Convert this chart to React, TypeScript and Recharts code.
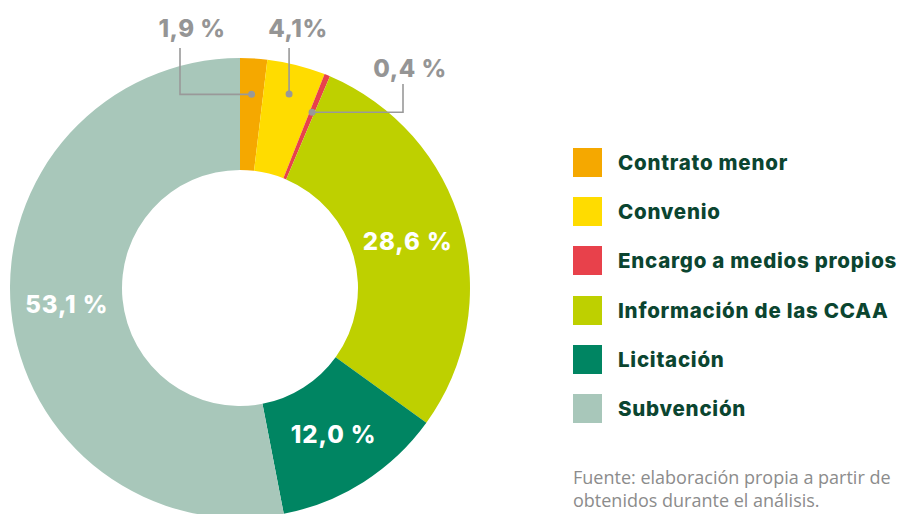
import { PieChart, Pie, Cell, Legend } from "recharts";

const categories = [
  "Contrato menor",
  "Convenio",
  "Encargo a medios propios",
  "Información de las CCAA",
  "Licitación",
  "Subvención",
];
const shares = [1.9, 4.1, 0.4, 28.6, 12.0, 53.1];
const shareLabels = ["1,9 %", "4,1%", "0,4 %", "28,6 %", "12,0 %", "53,1 %"];
const colors = ["#F5A800", "#FFDC00", "#E8414B", "#BED000", "#008562", "#A8C7BA"];

// placement of the outside labels (leader line elbows / text anchors)
const outside: Record<number, { dotR: number; elbowX?: number; endY: number; textX: number; textY: number }> = {
  0: { dotR: 194, elbowX: 180, endY: 48, textX: 192, textY: 37 },
  1: { dotR: 200, endY: 48, textX: 298, textY: 37 },
  2: { dotR: 190, elbowX: 403, endY: 84, textX: 410, textY: 77 },
};

const data = categories.map((name, i) => ({ name, value: shares[i] }));
const RAD = Math.PI / 180;
const FONT = "Inter, 'DejaVu Sans', sans-serif";

function renderLabel(props: any) {
  const { cx, cy, midAngle, innerRadius, outerRadius, index } = props;
  const lay = outside[index];
  if (!lay) {
    const r = (innerRadius + outerRadius) / 2;
    const x = cx + r * Math.cos(-midAngle * RAD);
    const y = cy + r * Math.sin(-midAngle * RAD);
    return (
      <text x={x} y={y} fill="#fff" textAnchor="middle" dominantBaseline="central"
        fontSize={24} fontWeight={800} fontFamily={FONT} letterSpacing={0.9}>
        {shareLabels[index]}
      </text>
    );
  }
  const dx = cx + lay.dotR * Math.cos(-midAngle * RAD);
  const dy = cy + lay.dotR * Math.sin(-midAngle * RAD);
  const ex = lay.elbowX ?? dx;
  return (
    <g>
      <path d={`M${dx},${dy} L${ex},${dy} L${ex},${lay.endY}`} stroke="#999" strokeWidth={1.6} fill="none" />
      <circle cx={dx} cy={dy} r={3.5} fill="#999" />
      <text x={lay.textX} y={lay.textY} fill="#959595" textAnchor="middle"
        fontSize={24} fontWeight={800} fontFamily={FONT} letterSpacing={0.5}>
        {shareLabels[index]}
      </text>
    </g>
  );
}

function LegendBox() {
  return (
    <div>
      {categories.map((c, i) => (
        <div key={c} style={{ display: "flex", alignItems: "center", height: 29, marginBottom: 20.2 }}>
          <div style={{ width: 29, height: 29, background: colors[i], marginRight: 16 }} />
          <span style={{
            fontFamily: FONT, fontWeight: 800, fontSize: 20.5, letterSpacing: 0.75,
            color: "#0B4530", whiteSpace: "nowrap",
          }}>
            {c}
          </span>
        </div>
      ))}
    </div>
  );
}

export default function App() {
  return (
    <div style={{ position: "absolute", left: 0, top: 0, width: 899, height: 514, overflow: "hidden", background: "#fff" }}>
      <PieChart width={899} height={514} margin={{ top: 0, right: 0, bottom: 0, left: 0 }}>
        <Pie
          data={data}
          dataKey="value"
          nameKey="name"
          cx={240}
          cy={288}
          innerRadius={118}
          outerRadius={230}
          startAngle={90}
          endAngle={-270}
          stroke="none"
          label={renderLabel}
          labelLine={false}
          isAnimationActive={false}
        >
          {data.map((d, i) => (
            <Cell key={d.name} fill={colors[i]} />
          ))}
        </Pie>
        <Legend
          layout="vertical"
          content={() => <LegendBox />}
          wrapperStyle={{ position: "absolute", left: 573, top: 148, width: 326 }}
        />
      </PieChart>
      <div style={{
        position: "absolute", left: 573, top: 466, fontFamily: "'Open Sans', sans-serif",
        fontSize: 18, lineHeight: "22.5px", color: "#8C8C8C", whiteSpace: "nowrap",
      }}>
        Fuente: elaboración propia a partir de
        <br />
        obtenidos durante el análisis.
      </div>
    </div>
  );
}
